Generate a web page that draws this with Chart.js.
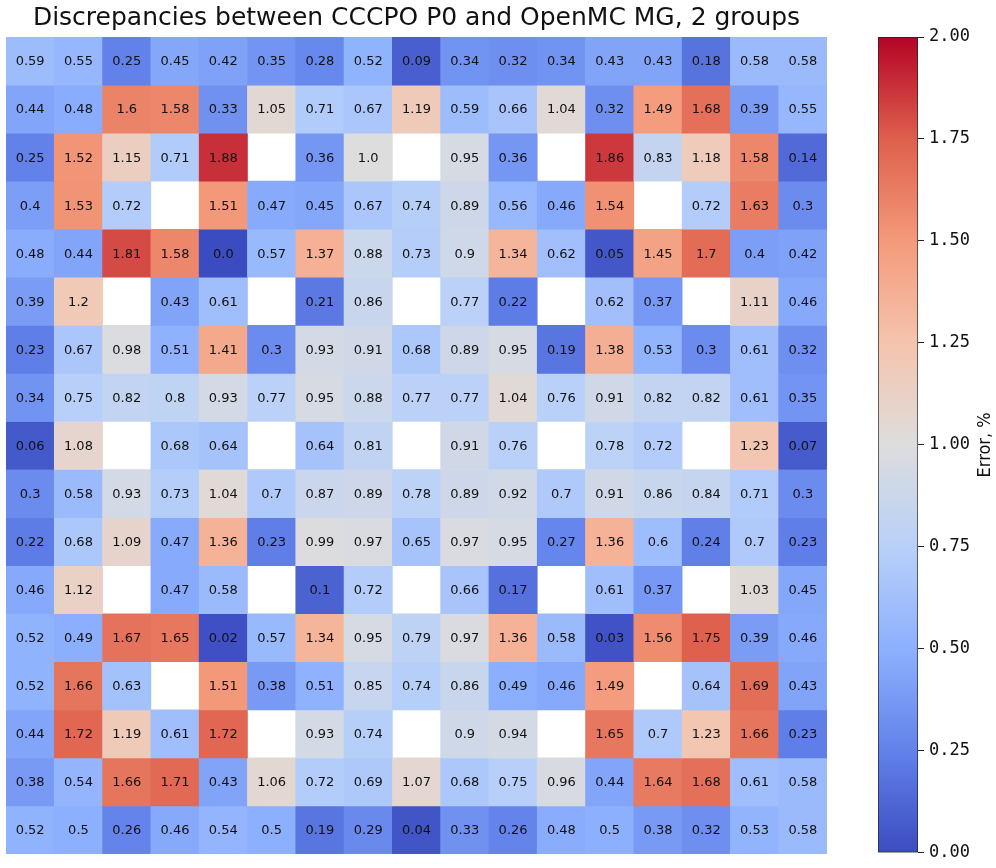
<!DOCTYPE html>
<html>
<head>
<meta charset="utf-8">
<script src="https://cdn.jsdelivr.net/npm/chart.js@4.4.0/dist/chart.umd.min.js"></script>
<style>
  body { margin: 0; background: #fff; }
  #map { position: absolute; left: 0; top: 0; width: 830px; height: 868px; }
  #bar { position: absolute; left: 830px; top: 0; width: 166px; height: 868px; }
</style>
</head>
<body>
<div id="map"><canvas id="heat"></canvas></div>
<div id="bar"><canvas id="cbar"></canvas></div>
<script>
  // error per cell, %, top row first; null = empty (white) cell
  const r00 = [0.59, 0.55, 0.25, 0.45, 0.42, 0.35, 0.28, 0.52, 0.09, 0.34, 0.32, 0.34, 0.43, 0.43, 0.18, 0.58, 0.58];
  const r01 = [0.44, 0.48, 1.6, 1.58, 0.33, 1.05, 0.71, 0.67, 1.19, 0.59, 0.66, 1.04, 0.32, 1.49, 1.68, 0.39, 0.55];
  const r02 = [0.25, 1.52, 1.15, 0.71, 1.88, null, 0.36, 1.0, null, 0.95, 0.36, null, 1.86, 0.83, 1.18, 1.58, 0.14];
  const r03 = [0.4, 1.53, 0.72, null, 1.51, 0.47, 0.45, 0.67, 0.74, 0.89, 0.56, 0.46, 1.54, null, 0.72, 1.63, 0.3];
  const r04 = [0.48, 0.44, 1.81, 1.58, 0.0, 0.57, 1.37, 0.88, 0.73, 0.9, 1.34, 0.62, 0.05, 1.45, 1.7, 0.4, 0.42];
  const r05 = [0.39, 1.2, null, 0.43, 0.61, null, 0.21, 0.86, null, 0.77, 0.22, null, 0.62, 0.37, null, 1.11, 0.46];
  const r06 = [0.23, 0.67, 0.98, 0.51, 1.41, 0.3, 0.93, 0.91, 0.68, 0.89, 0.95, 0.19, 1.38, 0.53, 0.3, 0.61, 0.32];
  const r07 = [0.34, 0.75, 0.82, 0.8, 0.93, 0.77, 0.95, 0.88, 0.77, 0.77, 1.04, 0.76, 0.91, 0.82, 0.82, 0.61, 0.35];
  const r08 = [0.06, 1.08, null, 0.68, 0.64, null, 0.64, 0.81, null, 0.91, 0.76, null, 0.78, 0.72, null, 1.23, 0.07];
  const r09 = [0.3, 0.58, 0.93, 0.73, 1.04, 0.7, 0.87, 0.89, 0.78, 0.89, 0.92, 0.7, 0.91, 0.86, 0.84, 0.71, 0.3];
  const r10 = [0.22, 0.68, 1.09, 0.47, 1.36, 0.23, 0.99, 0.97, 0.65, 0.97, 0.95, 0.27, 1.36, 0.6, 0.24, 0.7, 0.23];
  const r11 = [0.46, 1.12, null, 0.47, 0.58, null, 0.1, 0.72, null, 0.66, 0.17, null, 0.61, 0.37, null, 1.03, 0.45];
  const r12 = [0.52, 0.49, 1.67, 1.65, 0.02, 0.57, 1.34, 0.95, 0.79, 0.97, 1.36, 0.58, 0.03, 1.56, 1.75, 0.39, 0.46];
  const r13 = [0.52, 1.66, 0.63, null, 1.51, 0.38, 0.51, 0.85, 0.74, 0.86, 0.49, 0.46, 1.49, null, 0.64, 1.69, 0.43];
  const r14 = [0.44, 1.72, 1.19, 0.61, 1.72, null, 0.93, 0.74, null, 0.9, 0.94, null, 1.65, 0.7, 1.23, 1.66, 0.23];
  const r15 = [0.38, 0.54, 1.66, 1.71, 0.43, 1.06, 0.72, 0.69, 1.07, 0.68, 0.75, 0.96, 0.44, 1.64, 1.68, 0.61, 0.58];
  const r16 = [0.52, 0.5, 0.26, 0.46, 0.54, 0.5, 0.19, 0.29, 0.04, 0.33, 0.26, 0.48, 0.5, 0.38, 0.32, 0.53, 0.58];
  const rows = [r00, r01, r02, r03, r04, r05, r06, r07, r08, r09, r10, r11, r12, r13, r14, r15, r16];

  const columns = ['0','1','2','3','4','5','6','7','8','9','10','11','12','13','14','15','16'];
  const vmin = 0, vmax = 2;
  const cbarTicks = [0, 0.25, 0.5, 0.75, 1, 1.25, 1.5, 1.75, 2];

  // coolwarm, sampled
  const cw = [
    [0.0, 59, 76, 192], [0.125, 98, 130, 234], [0.25, 141, 176, 254], [0.375, 184, 208, 249],
    [0.5, 221, 221, 221], [0.625, 245, 196, 173], [0.75, 244, 154, 123], [0.875, 222, 96, 77],
    [1.0, 180, 4, 38]
  ];
  function cmap(t) {
    t = Math.max(0, Math.min(1, t));
    for (let i = 1; i < cw.length; i++) {
      if (t <= cw[i][0]) {
        const a = cw[i - 1], b = cw[i];
        const f = (t - a[0]) / (b[0] - a[0]);
        const c = [1, 2, 3].map(j => Math.round(a[j] + (b[j] - a[j]) * f));
        return 'rgb(' + c.join(',') + ')';
      }
    }
    return 'rgb(180,4,38)';
  }
  function fmt(v) {
    return Number.isInteger(v) ? v.toFixed(1) : String(v);
  }

  const cellText = {
    id: 'cellText',
    afterDatasetsDraw(chart) {
      const c = chart.ctx, xs = chart.scales.x, ys = chart.scales.y;
      c.save();
      c.font = '13px "DejaVu Sans"';
      c.fillStyle = '#111';
      c.textAlign = 'center';
      c.textBaseline = 'middle';
      rows.forEach(function (row, r) {
        row.forEach(function (v, k) {
          if (v === null) return;
          c.fillText(fmt(v), xs.getPixelForValue(k), ys.getPixelForValue(r + 0.5) + 1);
        });
      });
      c.restore();
    }
  };

  new Chart(document.getElementById('heat'), {
    type: 'bar',
    data: {
      labels: columns,
      datasets: rows.map(function (row, r) {
        return {
          data: row.map(v => v === null ? null : [r, r + 1]),
          backgroundColor: row.map(v => v === null ? '#fff' : cmap((v - vmin) / (vmax - vmin))),
          borderWidth: 0,
          barPercentage: 1,
          categoryPercentage: 1
        };
      })
    },
    options: {
      responsive: true,
      maintainAspectRatio: false,
      animation: false,
      layout: { padding: { left: 6, right: 3, top: 0, bottom: 14 } },
      plugins: {
        legend: { display: false },
        tooltip: { enabled: false },
        title: {
          display: true,
          text: 'Discrepancies between CCCPO P0 and OpenMC MG, 2 groups',
          color: '#111',
          font: { family: 'DejaVu Sans', size: 25, weight: 'normal' },
          padding: { top: 3, bottom: 4 }
        }
      },
      scales: {
        x: { display: false },
        y: { display: false, min: 0, max: 17, reverse: true }
      },
      datasets: { bar: { grouped: false } }
    },
    plugins: [cellText]
  });

  const cbarLabel = {
    id: 'cbarLabel',
    afterDraw(chart) {
      const c = chart.ctx, a = chart.chartArea;
      c.save();
      c.font = '18px "DejaVu Sans Condensed"';
      c.fillStyle = '#111';
      c.textAlign = 'center';
      c.textBaseline = 'middle';
      c.translate(155, (a.top + a.bottom) / 2);
      c.rotate(-Math.PI / 2);
      c.fillText('Error, %', 0, 0);
      c.restore();
    }
  };

  new Chart(document.getElementById('cbar'), {
    type: 'bar',
    data: {
      labels: [''],
      datasets: [{
        data: [[vmin, vmax]],
        backgroundColor: function (ctx) {
          const a = ctx.chart.chartArea;
          if (!a) return '#ccc';
          const g = ctx.chart.ctx.createLinearGradient(0, a.bottom, 0, a.top);
          cw.forEach(p => g.addColorStop(p[0], 'rgb(' + p[1] + ',' + p[2] + ',' + p[3] + ')'));
          return g;
        },
        borderColor: '#222',
        borderWidth: 1,
        borderSkipped: false,
        barPercentage: 1,
        categoryPercentage: 1
      }]
    },
    options: {
      responsive: true,
      maintainAspectRatio: false,
      animation: false,
      layout: { padding: { left: 48, right: 0, top: 37, bottom: 15 } },
      plugins: { legend: { display: false }, tooltip: { enabled: false } },
      scales: {
        x: { display: false },
        y: {
          position: 'right',
          min: vmin,
          max: vmax,
          afterBuildTicks: function (s) { s.ticks = cbarTicks.map(v => ({ value: v })); },
          afterFit: function (s) { s.width = 78; },
          ticks: {
            callback: v => v.toFixed(2),
            color: '#111',
            padding: 5,
            font: { family: 'DejaVu Sans Mono', size: 17 }
          },
          grid: { drawOnChartArea: false, tickLength: 6, color: '#222' },
          border: { display: false }
        }
      }
    },
    plugins: [cbarLabel]
  });
</script>
</body>
</html>
